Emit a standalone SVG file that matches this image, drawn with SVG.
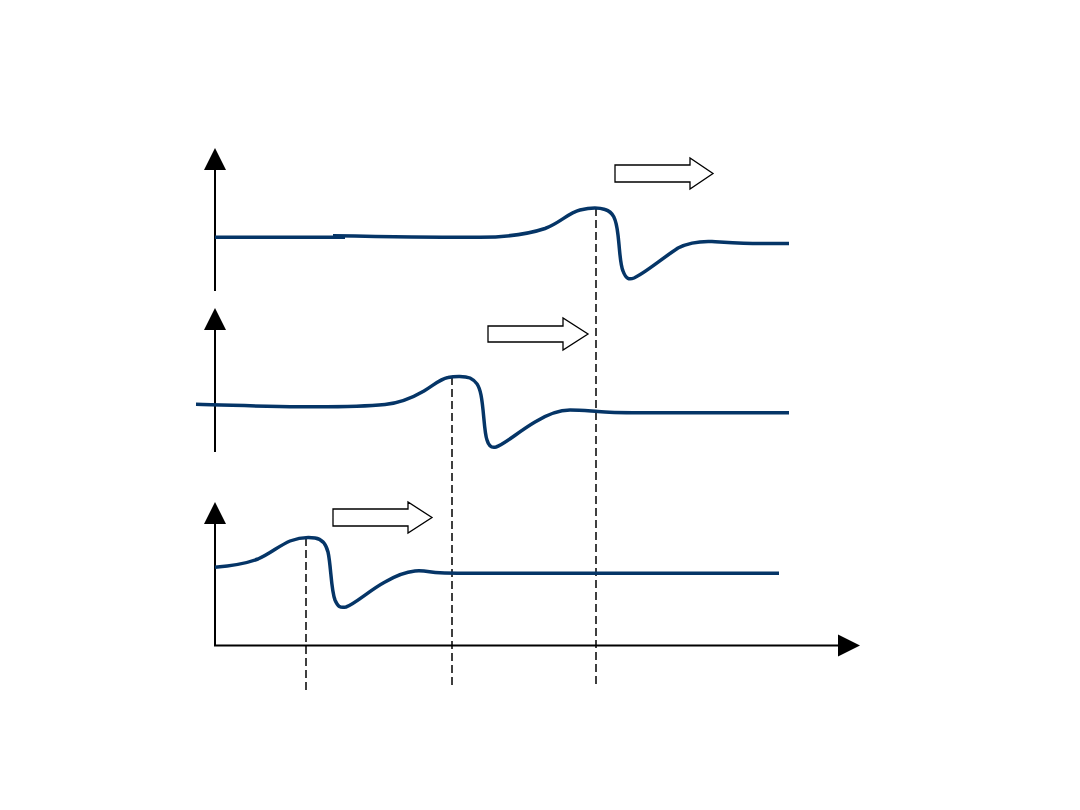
<svg xmlns="http://www.w3.org/2000/svg" width="1080" height="810" viewBox="0 0 1080 810">
<defs>
<style>
.axis{stroke:#000;stroke-width:2;fill:none}
.head{fill:#000;stroke:none}
.curve{stroke:#053567;stroke-width:3.5;fill:none;stroke-linejoin:round;stroke-linecap:butt}
.dash{stroke:#000;stroke-width:1.5;fill:none;stroke-dasharray:8,4}
.block{fill:#fff;stroke:#000;stroke-width:1.3}
</style>
</defs>
<rect width="1080" height="810" fill="#fff"/>
<g id="connectors">
<line class="dash" x1="596" y1="208" x2="596" y2="686"/>
<line class="dash" x1="452" y1="377" x2="452" y2="686"/>
<line class="dash" x1="306" y1="538" x2="306" y2="694"/>
</g>
<g id="axis-top">
<line class="axis" x1="215" y1="168" x2="215" y2="291"/>
<polygon class="head" points="215,148 204,170 226,170"/>
</g>
<g id="axis-middle">
<line class="axis" x1="215" y1="328" x2="215" y2="452"/>
<polygon class="head" points="215,308 204,330 226,330"/>
</g>
<g id="axis-bottom">
<line class="axis" x1="215" y1="522" x2="215" y2="646"/>
<polygon class="head" points="215,502 204,524 226,524"/>
<line class="axis" x1="214" y1="645.5" x2="842" y2="645.5"/>
<polygon class="head" points="860,645.5 838,634.5 838,656.5"/>
</g>
<g id="curve-top">
<path class="curve" d="M215,237.3 L345,237.3"/>
<path class="curve" d="M333,235.8 C380,236.6 440,237.6 480,237.3 C505,237.1 527,234.5 545,228.5 C560,223 568,213 580,210 C590,207.5 598,207 605,209.5 C613,212 616,218 618,235 C620,252 620,264 623,271 C626,279 629,280 634,278 C645,273 660,260 678,248 C690,242 700,241 712,241.5 C730,242.5 745,243.5 760,243.5 L789,243.5"/>
</g>
<g id="curve-middle">
<path class="curve" d="M196,404.3 C230,405 260,406.5 300,406.7 C340,407 365,406.5 385,404.5 C400,403 412,398 424,391 C434,385 440,379 448,377.5 C455,376 465,376 470,378 C476,381 479,385 481,395 C484,410 484,432 487,440 C489,447 492,448 496,447 C505,444 518,432 535,422 C548,414 558,410 570,410 C580,410 590,411 598,411.5 C608,412.5 620,412.7 640,412.7 L789,412.7"/>
</g>
<g id="curve-bottom">
<path class="curve" d="M215,567.3 C230,566 245,564 258,559 C270,554 280,545 290,541 C298,538 308,537 315,538 C322,539 326,544 328,552 C331,565 331,590 335,600 C338,607 340,608 346,607 C355,604 370,590 385,582 C397,575 405,572 415,571 C425,570 430,572.5 440,572.8 C448,573 455,573.3 470,573.3 L779,573.3"/>
</g>
<g id="block-arrow-top">
<polygon class="block" points="615,165 690,165 690,158 713,173.5 690,189 690,182 615,182"/>
</g>
<g id="block-arrow-middle">
<polygon class="block" points="488,326 563,326 563,318 588,334 563,350 563,342 488,342"/>
</g>
<g id="block-arrow-bottom">
<polygon class="block" points="333,509 408,509 408,502 432,517.5 408,533 408,526 333,526"/>
</g>
</svg>
